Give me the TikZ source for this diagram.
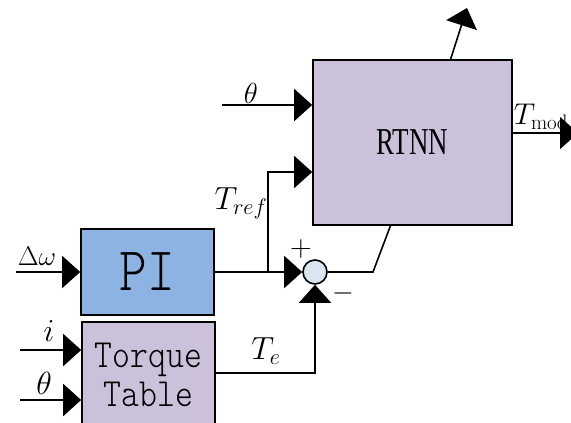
\RequirePackage{fix-cm}
\documentclass[tikz,border=0pt]{standalone}
\usepackage{fontspec}
\newfontfamily\narrowserif{Liberation Serif}[FakeStretch=0.71]
\newfontfamily\lightmono{lmmonolt10-regular}[Extension=.otf, FakeStretch=0.85]
\usepackage{xcolor}
\definecolor{piblue}{HTML}{8DB3E2}
\definecolor{lav}{HTML}{CCC1DA}
\definecolor{sumfill}{HTML}{DCE6F2}
\usetikzlibrary{arrows.meta,positioning,calc}
\newcommand{\fsz}[1]{\fontsize{#1}{#1}\selectfont}
\tikzset{
  every picture/.style={line width=1.6pt},
  blk/.style={draw=black, fill=#1, inner sep=0pt, align=center},
  arrow/.style={-{Triangle[length=18pt, width=32pt]}, draw=black},
  lbl/.style={inner sep=0pt},
}

\begin{document}
\begin{tikzpicture}[x=1pt, y=-1pt]
  \useasboundingbox (0,0) rectangle (571,423);
  \node[blk=lav, minimum width=199pt, minimum height=165pt] (rtnn) at (412.5,142.5) {\fsz{38}\narrowserif RTNN};
  \node[blk=piblue, minimum width=133pt, minimum height=86pt] (pi) at (147.5,272) {\fsz{62}\lightmono PI};
  \node[blk=lav, minimum width=133pt, minimum height=106pt] (table) at (148.5,375) {\fsz{40}\lightmono Torque\\[4pt]\fsz{40}\lightmono Table};
  \node[circle, draw, fill=sumfill, minimum size=24pt, inner sep=0pt] (sum) at (315,272) {};
  % free ends
  \coordinate (dw) at (16,272);
  \coordinate (iin) at (20,350);
  \coordinate (thin) at (20,400);
  \coordinate (thr) at (222,105);
  \coordinate (jn) at (268,272);
  \coordinate (bend) at (373,272);
  \coordinate (up) at (467,8);
  \coordinate (out) at (578,133);
  \coordinate (rtop) at ($(rtnn.north west)!0.69!(rtnn.north east)$);
  \coordinate (rbot) at ($(rtnn.south west)!0.39!(rtnn.south east)$);
  % connectors
  \draw[arrow] (dw) -- (pi.west);
  \draw[arrow] (iin) -- (iin -| table.west);
  \draw[arrow] (thin) -- (thin -| table.west);
  \draw[arrow] (thr) -- (thr -| rtnn.west);
  \draw[arrow] (pi.east) -- (sum.west);
  \draw[arrow] (jn) |- ($(rtnn.west)+(0,29.5)$);
  \draw[arrow] ($(table.east)+(0,-2)$) -| (sum.south);
  \draw (sum.east) -- (bend) -- (rbot);
  \draw[arrow] (rtop) -- (up);
  \draw[arrow] (rtnn.east |- out) -- (out);
  % labels
  \node[lbl] (ldw) at (37,256) {\fsz{27}$\Delta\omega$};
  \node[lbl] (li) at (49,331) {\fsz{32}$i$};
  \node[lbl] (lth1) at (44,383) {\fsz{32}$\theta$};
  \node[lbl] (lth2) at (251,93) {\fsz{29}$\theta$};
  \node[lbl] (ltref) at (241,203) {\fsz{32}$T_{ref}$};
  \node[lbl] (lte) at (266,351) {\fsz{32}$T_e$};
  \node[lbl, anchor=south west] (ltmod) at (513,130) {\fsz{30}$T_{\mathrm{mod}}$};
  \node[lbl] (plus) at (301,249) {\fsz{30}$+$};
  \node[lbl] (minus) at (343,293) {\fsz{28}$-$};
\end{tikzpicture}
\end{document}
